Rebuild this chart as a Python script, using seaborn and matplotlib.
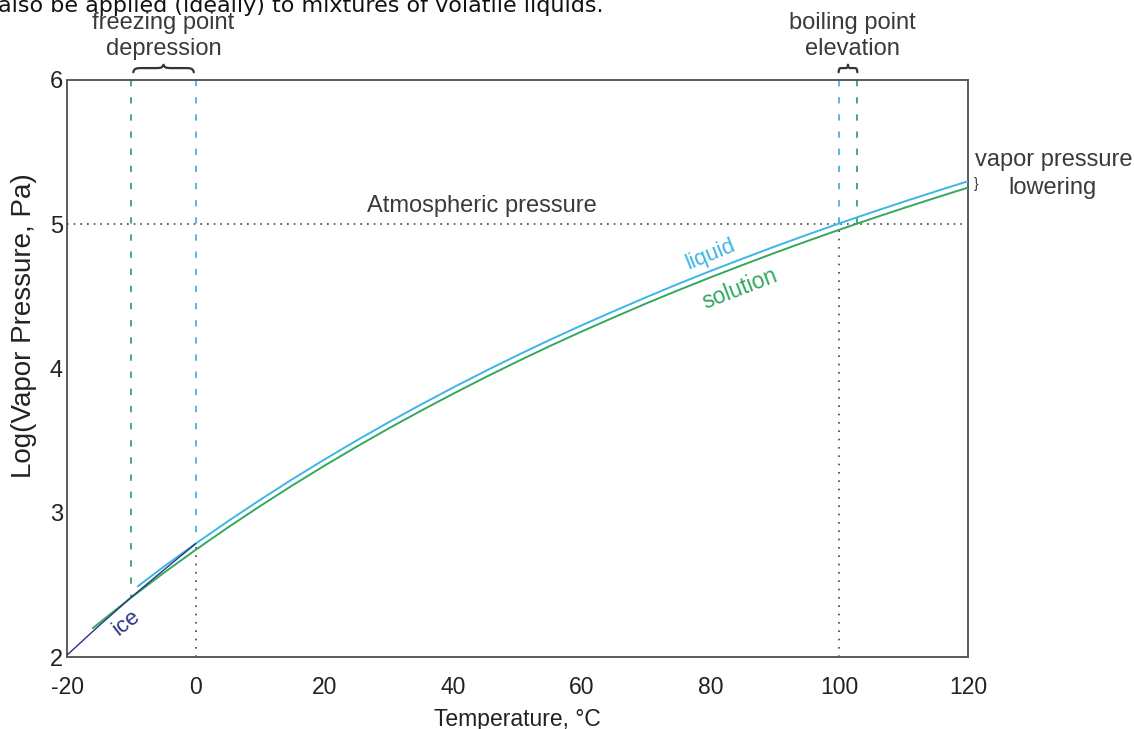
import numpy as np
import pandas as pd
import matplotlib
matplotlib.use("Agg")
import matplotlib.pyplot as plt
import seaborn as sns
from matplotlib.path import Path
from matplotlib.patches import PathPatch
import matplotlib.transforms as mtransforms

# ---- data ----
liquid_T = [-9, -5, 0, 5, 10, 15, 20, 25, 30, 35, 40, 45, 50, 55, 60, 65, 70, 75,
            80, 85, 90, 95, 100, 105, 110, 115, 120]
liquid_logP = [2.49, 2.625, 2.786, 2.941, 3.089, 3.232, 3.369, 3.501, 3.628, 3.750,
               3.868, 3.982, 4.092, 4.198, 4.300, 4.398, 4.494, 4.587, 4.676, 4.762,
               4.846, 4.927, 5.006, 5.082, 5.156, 5.228, 5.298]

solution_T = [-16, -10, -5, 0, 5, 10, 15, 20, 25, 30, 35, 40, 45, 50, 55, 60, 65, 70,
              75, 80, 85, 90, 95, 100, 105, 110, 115, 120]
solution_logP = [2.20, 2.413, 2.582, 2.743, 2.898, 3.046, 3.189, 3.326, 3.458, 3.585,
                 3.707, 3.825, 3.939, 4.049, 4.155, 4.257, 4.355, 4.451, 4.543, 4.632,
                 4.718, 4.802, 4.883, 4.962, 5.038, 5.112, 5.184, 5.254]

ice_T = [-20, -15, -10, -5, 0]
ice_logP = [2.013, 2.218, 2.415, 2.602, 2.786]

atm_logP = 5.0
freeze_liquid_T = 0
freeze_solution_T = -10
boil_liquid_T = 100
boil_solution_T = 102.7

x_ticks = [-20, 0, 20, 40, 60, 80, 100, 120]
y_ticks = [2, 3, 4, 5, 6]

BLUE = "#3fb5e6"
GREEN = "#33a85e"
NAVY = "#2c3380"
TXT = "#3a3a3a"
SPINE = "#5a5a5a"

sns.set_style("white")
plt.rcParams["font.family"] = ["Liberation Sans", "DejaVu Sans"]

fig = plt.figure(figsize=(11.34, 7.29), dpi=100)
ax = fig.add_axes([67 / 1134, 1 - 657 / 729, (968 - 67) / 1134, (657 - 80) / 729])

liq = pd.DataFrame({"T": liquid_T, "logP": liquid_logP})
sol = pd.DataFrame({"T": solution_T, "logP": solution_logP})
ice = pd.DataFrame({"T": ice_T, "logP": ice_logP})

# reference lines
DASH = (0, (3.5, 6))
DOT = (0, (1, 4))
ax.axhline(atm_logP, xmin=0, xmax=0.995, color="#444444", lw=1.2, ls=(0, (1, 3)), zorder=1)
ax.plot([freeze_solution_T] * 2, [6, ice_logP[2]], color=GREEN, lw=1.3, ls=DASH, zorder=1)
ax.plot([freeze_liquid_T] * 2, [6, ice_logP[-1]], color=BLUE, lw=1.3, ls=DASH, zorder=1)
ax.plot([freeze_liquid_T] * 2, [2, ice_logP[-1]], color="#444444", lw=1.2, ls=DOT, zorder=1)
ax.plot([boil_liquid_T] * 2, [6, atm_logP], color=BLUE, lw=1.3, ls=DASH, zorder=1)
ax.plot([boil_liquid_T] * 2, [2, atm_logP], color="#444444", lw=1.2, ls=DOT, zorder=1)
ax.plot([boil_solution_T] * 2, [6, atm_logP], color=GREEN, lw=1.3, ls=DASH, zorder=1)

sns.lineplot(data=sol, x="T", y="logP", ax=ax, color=GREEN, lw=1.4, zorder=3)
sns.lineplot(data=liq, x="T", y="logP", ax=ax, color=BLUE, lw=1.4, zorder=3)
sns.lineplot(data=ice, x="T", y="logP", ax=ax, color=NAVY, lw=1.0, zorder=4)

ax.set_xlim(-20, 120)
ax.set_ylim(2, 6)
ax.set_xticks(x_ticks)
ax.set_yticks(y_ticks)
ax.set_xticklabels([str(v) for v in x_ticks], fontsize=16.5, color="#222222")
ax.set_yticklabels([str(v) for v in y_ticks], fontsize=17, color="#222222")
ax.tick_params(direction="in", length=5, width=1.1, color=SPINE)
ax.tick_params(axis="x", pad=14)
ax.tick_params(axis="y", pad=3)
ax.set_xlabel("Temperature, °C", fontsize=16.5, color="#222222")
ax.set_ylabel("Log(Vapor Pressure, Pa)", fontsize=20, color="#222222")
ax.xaxis.set_label_coords(0.5, -0.088)
ax.yaxis.set_label_coords(-0.033, 0.574)
for s in ax.spines.values():
    s.set_color(SPINE)
    s.set_linewidth(1.4)
    s.set_visible(True)

# labels on curves
ax.text(80, 4.79, "liquid", color=BLUE, fontsize=16, rotation=22, ha="center", va="center")
ax.text(84.5, 4.55, "solution", color=GREEN, fontsize=16.5, rotation=21, ha="center", va="center")
ax.text(-10.8, 2.24, "ice", color=NAVY, fontsize=16, rotation=38, ha="center", va="center")
ax.text(44.5, 5.127, "Atmospheric pressure", color=TXT, fontsize=17, ha="center", va="center")

# braces and annotations above the axes
bt = mtransforms.blended_transform_factory(ax.transData, ax.transAxes)


def hbrace(x0, x1, y0, h, s):
    xm = (x0 + x1) / 2
    ys = y0 + 0.55 * h
    verts = [
        (x0, y0), (x0 + 0.1 * s, ys), (x0 + 0.4 * s, ys), (x0 + s, ys),
        (xm - s, ys),
        (xm - 0.4 * s, ys), (xm - 0.1 * s, ys), (xm, y0 + h),
        (xm + 0.1 * s, ys), (xm + 0.4 * s, ys), (xm + s, ys),
        (x1 - s, ys),
        (x1 - 0.4 * s, ys), (x1 - 0.1 * s, ys), (x1, y0),
    ]
    codes = [Path.MOVETO, Path.CURVE4, Path.CURVE4, Path.CURVE4,
             Path.LINETO,
             Path.CURVE4, Path.CURVE4, Path.CURVE4,
             Path.CURVE4, Path.CURVE4, Path.CURVE4,
             Path.LINETO,
             Path.CURVE4, Path.CURVE4, Path.CURVE4]
    ax.add_patch(PathPatch(Path(verts, codes), transform=bt, fill=False,
                           lw=1.6, edgecolor="#333333", clip_on=False,
                           capstyle="round", joinstyle="round"))


hbrace(freeze_solution_T + 0.3, freeze_liquid_T - 0.3, 1.0135, 0.013, 1.4)
hbrace(boil_liquid_T - 0.1, boil_solution_T + 0.1, 1.0135, 0.013, 0.45)

ax.text(-5, 1.0995, "freezing point", transform=bt, ha="center", va="center",
        fontsize=17, color=TXT, clip_on=False)
ax.text(-5, 1.0545, "depression", transform=bt, ha="center", va="center",
        fontsize=17, color=TXT, clip_on=False)
ax.text(102, 1.0995, "boiling point", transform=bt, ha="center", va="center",
        fontsize=17, color=TXT, clip_on=False)
ax.text(102, 1.0545, "elevation", transform=bt, ha="center", va="center",
        fontsize=17, color=TXT, clip_on=False)

# vapor pressure lowering brace (small, vertical)
vt = mtransforms.blended_transform_factory(ax.transAxes, ax.transData)
ax.text(1.009, (solution_logP[-1] + liquid_logP[-1]) / 2, "}", transform=vt,
        ha="center", va="center", fontsize=10, color="#333333", clip_on=False)

fig.text(1054 / 1134, 1 - 160 / 729, "vapor pressure", ha="center", va="center",
         fontsize=17, color=TXT)
fig.text(1053 / 1134, 1 - 188 / 729, "lowering", ha="center", va="center",
         fontsize=17, color=TXT)

# cropped line of body text at top of the image
fig.text(-0.002, 1 - 12 / 729, "also be applied (ideally) to mixtures of volatile liquids.",
         ha="left", va="baseline", fontsize=16, color="#111111",
         family=["DejaVu Sans"])

fig.savefig("out.png", dpi=100)
